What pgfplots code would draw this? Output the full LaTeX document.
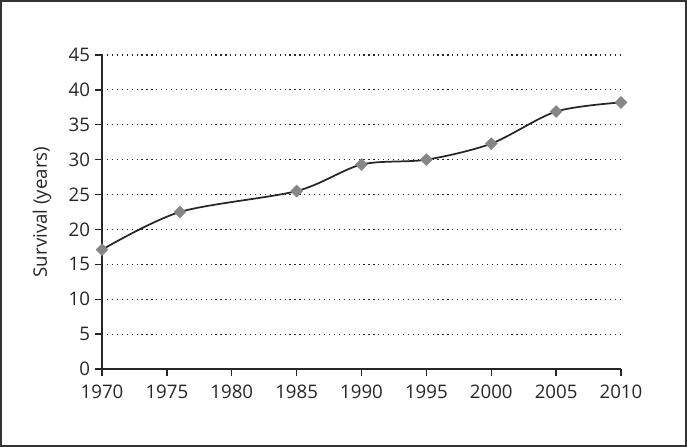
\documentclass[border=0pt]{standalone}
\usepackage{fontspec}
\setmainfont{Open Sans}
\usepackage{pgfplots}
\pgfplotsset{compat=1.18}

\pgfplotstableread{
year survival
1970 17.1
1976 22.5
1985 25.5
1990 29.3
1995 30.0
2000 32.3
2005 36.9
2010 38.2
}\survival

\begin{document}
\begin{tikzpicture}[x=1pt,y=1pt]
% outer frame (px -> 0.75pt)
\draw[line width=1.5pt, black!80] (-76.5+0.75,-58.5+0.75) rectangle (438.75-0.75,276.75-0.75);
\begin{axis}[
    at={(0,0)}, anchor=origin,
    scale only axis,
    width=389.25pt, height=235.5pt,
    xmin=1970, xmax=2010, ymin=0, ymax=45,
    xtick={1970,1975,...,2010},
    ytick={0,5,...,45},
    axis lines*=left,
    axis line style={black!85, line width=1pt},
    tick align=outside,
    major tick length=5.5pt,
    tick style={black!85, line width=1pt},
    x tick label style={/pgf/number format/1000 sep={}},
    /pgf/number format/assume math mode=true,
    ymajorgrids,
    major grid style={black!85, line width=0.9pt, dash pattern=on 0.9pt off 2.8pt},
    ticklabel style={font=\fontsize{14}{16}\selectfont, text=black!85},
    ylabel={Survival (years)},
    ylabel style={font=\fontsize{14}{16}\selectfont, text=black!85},
    ylabel shift=6pt,
    xticklabel shift=3pt,
    clip=false,
]
\addplot[smooth, tension=0.5, line width=1.3pt, black!85,
    mark=square*, mark size=3.2pt,
    mark options={rotate=45, fill=gray!95, draw=gray!95, line width=0.3pt}]
    table[x=year, y=survival] {\survival};
\end{axis}
\end{tikzpicture}
\end{document}
